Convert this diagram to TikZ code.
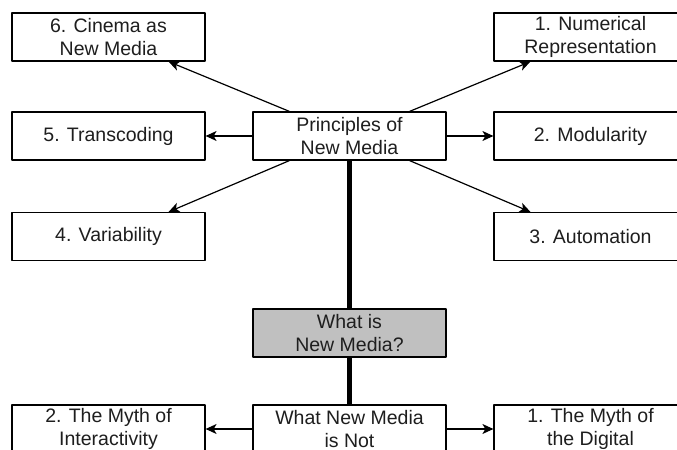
\documentclass[tikz,border=0pt]{standalone}
\usepackage{fontspec}
\setmainfont{Liberation Sans}
\usetikzlibrary{arrows.meta}
\definecolor{fillgray}{RGB}{192,192,192}
\definecolor{textgray}{RGB}{30,30,30}
\begin{document}
\begin{tikzpicture}[x=1bp,y=-1bp,>={Stealth[length=11bp,width=10bp,inset=3bp]},line join=bevel,
  box/.style={draw,fill=white,minimum width=193bp,minimum height=48bp,inner sep=0pt,align=center,
    text=textgray,font=\fontsize{19.5bp}{23bp}\selectfont},
  trunk/.style={line width=5bp}]
  \pgfsetlinewidth{1.2bp}
  \useasboundingbox (0,0) rectangle (677,450);
  \clip (0,0) rectangle (677,450);
  \fill [white] (0,0) rectangle (677,450);
%%
  % Node: Principles
  \node [box] (principles) at (349.5,136) {Principles of\\New Media};
  % Node: Cinema
  \node [box] (cinema) at (108.5,37) {6. Cinema as\\New Media};
  % Node: Transcoding
  \node [box] (transcoding) at (108.5,136) {5. Transcoding};
  % Node: Variability
  \node [box] (variability) at (108.5,236.5) {4. Variability};
  % Node: Numerical
  \node [box] (numerical) at (590.5,37) {1. Numerical\\Representation};
  % Node: Modularity
  \node [box] (modularity) at (590.5,136) {2. Modularity};
  % Node: Automation
  \node [box] (automation) at (590.5,236.5) {3. Automation};
  % Node: WhatIs
  \node [box,fill=fillgray] (whatis) at (349.5,333) {What is\\New Media?};
  % Node: IsNot
  \node [box] (isnot) at (349.5,429) {What New Media\\is Not};
  % Node: Interactivity
  \node [box] (interactivity) at (108.5,429) {2. The Myth of\\Interactivity};
  % Node: Digital
  \node [box] (digital) at (590.5,429) {1. The Myth of\\the Digital};
%
  % Edge: Principles -> Cinema
  \draw [->] ([xshift=37bp]principles.north west) -- ([xshift=-37bp]cinema.south east);
  % Edge: Principles -> Transcoding
  \draw [->] (principles.west) -- (transcoding.east);
  % Edge: Principles -> Variability
  \draw [->] ([xshift=37bp]principles.south west) -- ([xshift=-37bp]variability.north east);
  % Edge: Principles -> Numerical
  \draw [->] ([xshift=-37bp]principles.north east) -- ([xshift=37bp]numerical.south west);
  % Edge: Principles -> Modularity
  \draw [->] (principles.east) -- (modularity.west);
  % Edge: Principles -> Automation
  \draw [->] ([xshift=-37bp]principles.south east) -- ([xshift=37bp]automation.north west);
  % Edge: Principles -- WhatIs -- IsNot
  \draw [trunk] (principles.south) -- (whatis.north);
  \draw [trunk] (whatis.south) -- (isnot.north);
  % Edge: IsNot -> Interactivity
  \draw [->] (isnot.west) -- (interactivity.east);
  % Edge: IsNot -> Digital
  \draw [->] (isnot.east) -- (digital.west);
%
\end{tikzpicture}
\end{document}
